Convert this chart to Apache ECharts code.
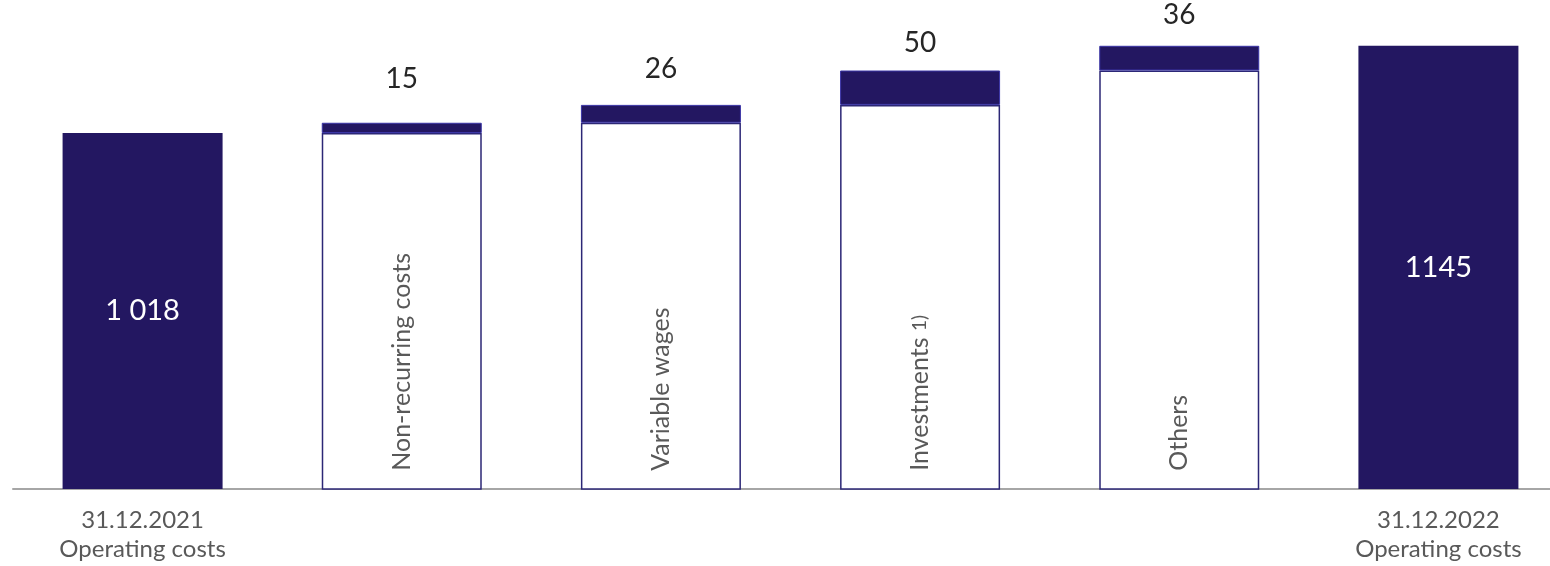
<!DOCTYPE html>
<html>
<head>
<meta charset="utf-8">
<script src="https://cdn.jsdelivr.net/npm/echarts@6/dist/echarts.min.js"></script>
<style>
html, body { margin: 0; padding: 0; background: #fff; }
#chart { width: 1550px; height: 566px; }
</style>
</head>
<body>
<div id="chart"></div>
<script>
const categories = [
    '31.12.2021\nOperating costs',
    'Non-recurring costs',
    'Variable wages',
    'Investments 1)',
    'Others',
    '31.12.2022\nOperating costs',
];
const startTotal = 1018;
const changes = [15, 26, 50, 36];
const endTotal = 1145;
const totalLabels = ['1 018', '1145'];
const yMin = 500;
const yMax = 1200;

// gap between each change bar and its number above it
const deltaLabelGap = [30, 22, 14, 17];

const NAVY = '#231761';
const GREY_TEXT = '#595959';
const FONT = 'Lato, "Open Sans", sans-serif';

// build waterfall pieces
const totals = [startTotal, '-', '-', '-', '-', endTotal];
const bases = ['-'];
let running = startTotal;
changes.forEach((c) => {
    bases.push(running);
    running += c;
});
bases.push('-');
const deltas = ['-'].concat(changes.map((c, i) => ({
    value: c,
    label: { distance: deltaLabelGap[i] },
})), ['-']);

const chart = echarts.init(document.getElementById('chart'));

chart.setOption({
    animation: false,
    textStyle: { fontFamily: FONT },
    grid: {
        left: 13,
        width: 1555,
        top: 8,
        bottom: 77,
        containLabel: false,
        outerBoundsMode: 'none',
    },
    xAxis: {
        type: 'category',
        data: categories,
        axisLine: { lineStyle: { color: '#a6a6a6', width: 2 } },
        axisTick: { show: false },
        axisLabel: {
            interval: 0,
            margin: 17,
            fontSize: 24,
            lineHeight: 29,
            color: GREY_TEXT,
            formatter: (v, i) => ((i === 0 || i === categories.length - 1) ? v : ''),
        },
    },
    yAxis: {
        type: 'value',
        min: yMin,
        max: yMax,
        show: false,
        splitLine: { show: false },
    },
    series: [
        {
            name: 'Total',
            type: 'bar',
            stack: 'w',
            barWidth: 160,
            data: totals,
            itemStyle: { color: NAVY },
            label: {
                show: true,
                position: 'inside',
                color: '#fff',
                fontSize: 29,
                formatter: (p) => (p.dataIndex === 0 ? totalLabels[0] : totalLabels[1]),
            },
        },
        {
            name: 'Base',
            type: 'bar',
            stack: 'w',
            barWidth: 160,
            data: bases,
            itemStyle: { color: '#fff', borderColor: '#2c2776', borderWidth: 1.5 },
            label: {
                show: true,
                position: 'insideBottom',
                distance: 19,
                rotate: 90,
                align: 'left',
                verticalAlign: 'middle',
                color: GREY_TEXT,
                fontSize: 25,
                formatter: (p) => {
                    const name = categories[p.dataIndex];
                    const m = name.match(/^(.*?) (\d\))$/);
                    return m ? `{a|${m[1]} }{b|${m[2]}}` : `{a|${name}}`;
                },
                rich: {
                    a: { fontSize: 25, color: GREY_TEXT, fontFamily: FONT },
                    b: { fontSize: 19, color: GREY_TEXT, fontFamily: FONT },
                },
            },
        },
        {
            name: 'Change',
            type: 'bar',
            stack: 'w',
            barWidth: 160,
            data: deltas,
            itemStyle: { color: NAVY, borderColor: '#3a34a6', borderWidth: 1 },
            label: {
                show: true,
                position: 'top',
                color: '#262626',
                fontSize: 28,
            },
        },
    ],
});
</script>
</body>
</html>
